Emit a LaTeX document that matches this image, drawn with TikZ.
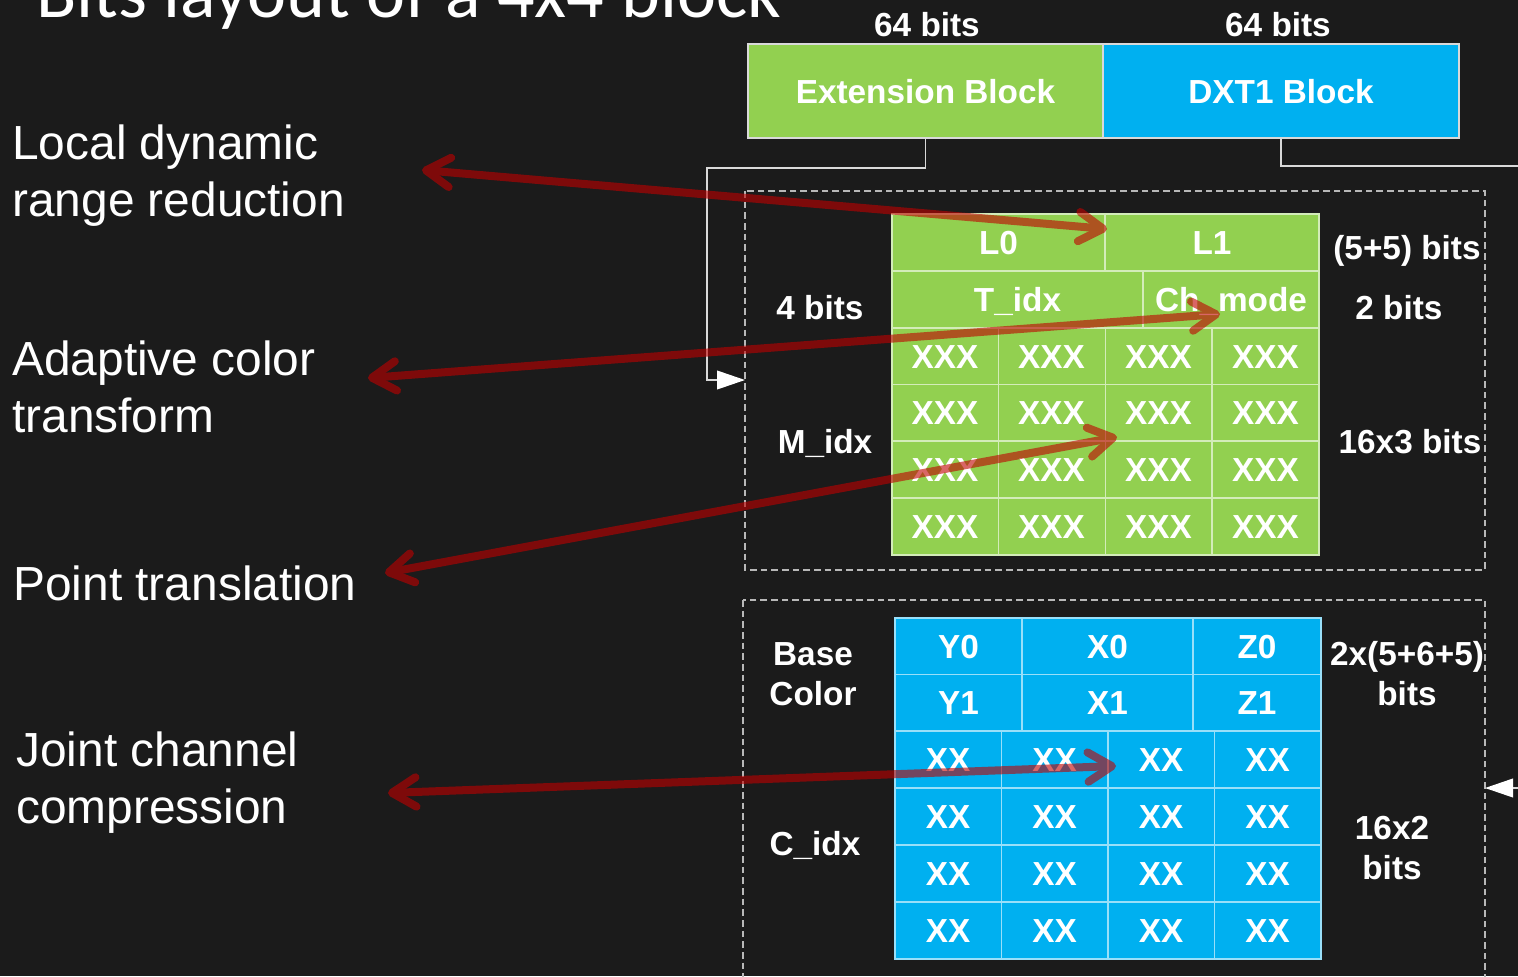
\documentclass[tikz,border=0pt]{standalone}
\usepackage{fontspec}
\setmainfont{Liberation Sans}
\newfontfamily\calfont{Carlito}
\usetikzlibrary{arrows.meta}
\definecolor{bg}{HTML}{1B1B1B}
\definecolor{xgreen}{HTML}{92D050}
\definecolor{xblue}{HTML}{00B0F0}
\definecolor{xred}{HTML}{C00000}
\definecolor{connc}{HTML}{D9D9D9}
\newcommand\bsz{\fontsize{25}{30}\selectfont\bfseries}
\newcommand\lsz{\fontsize{35.9}{42.75}\selectfont}
\newcommand\tsz{\calfont\fontsize{55.5}{60}\selectfont}
\begin{document}
\begin{tikzpicture}[x=0.75pt,y=-0.75pt,
  lbl/.style={text=white,font=\bsz,inner sep=0pt,text height=18pt,text depth=0pt},
  lbltwo/.style={text=white,font=\bsz,inner sep=0pt,align=center},
  bigtxt/.style={text=white,font=\lsz,inner sep=0pt,anchor=base west,align=left},
  blk/.style={draw=connc,line width=1.1pt,text=white,font=\bsz,inner sep=0pt,
    minimum height=70.5pt,text height=18pt,text depth=0pt},
  gline/.style={draw=white!60!xgreen,line width=1.3pt},
  bline/.style={draw=white!60!xblue,line width=1.3pt},
  dbox/.style={draw=connc!85!black,line width=1.1pt,dash pattern=on 5pt off 3pt},
  conn/.style={draw=connc,line width=1.3pt,-{Triangle[length=21pt,width=14pt,color=white]}},
  redarrow/.style={draw=xred,line width=6pt,line cap=round,
    {Straight Barb[round,length=18pt,width=22pt]}-{Straight Barb[round,length=18pt,width=22pt]}}]
\fill[bg] (0,0) rectangle (1518,976);
\useasboundingbox (0,0) rectangle (1518,976);
\clip (0,0) rectangle (1518,976);

% title
\node[anchor=base west,text=white,font=\tsz,inner sep=0pt] (title) at (36,17) {Bits layout of a 4x4 block};

% left texts (base = last line)
\node[bigtxt] (t1) at (12,216) {Local dynamic\\range reduction};
\node[bigtxt] (t2) at (12,432) {Adaptive color\\transform};
\node[bigtxt] (t3) at (13,600) {Point translation};
\node[bigtxt] (t4) at (16,823) {Joint channel\\compression};

% top blocks
\node[blk,fill=xgreen,minimum width=266.25pt] (ext) at (925.5,91) {Extension Block};
\node[blk,fill=xblue,minimum width=267pt] (dxt) at (1281,91) {DXT1 Block};
\node[lbl] (s1) at (927,24) {64 bits};
\node[lbl] (s2) at (1278,24) {64 bits};

% dashed boxes
\draw[dbox] (745,191) rectangle (1485,570);
\draw[dbox] (743,600) rectangle (1485,990);

% connectors
\coordinate (in1) at (745,380);
\coordinate (in2) at (1485,788);
\draw[conn] (ext.south) -- ++(0,29) -| (707,380) -- (in1);
\draw[conn] (dxt.south) -- ++(0,27) -| (1530,788) -- (in2);

% green table
\fill[xgreen] (892,214) rectangle (1319,555);
\draw[gline] (892,214) rectangle (1319,555);
\foreach \y in {271,328,384.5,441,498} \draw[gline] (892,\y) -- (1319,\y);
\draw[gline] (1105,214) -- (1105,271);
\draw[gline] (1143,271) -- (1143,328);
\foreach \x in {998.5,1105.5,1212} \draw[gline] (\x,328) -- (\x,555);
\node[lbl] (l0) at (998.5,242.5) {L0};
\node[lbl] (l1) at (1212,242.5) {L1};
\node[lbl] (tidx) at (1017.5,299.5) {T\_idx};
\node[lbl] (chm) at (1231,299.5) {Ch\_mode};
\foreach \r [count=\i] in {356,412.5,469.5,526.5}
  \foreach \c [count=\j] in {945,1051.5,1158.5,1265.5}
    \node[lbl] (g\i\j) at (\c,\r) {XXX};

% blue table
\fill[xblue] (895,618) rectangle (1321,959);
\draw[bline] (895,618) rectangle (1321,959);
\foreach \y in {674.5,731,788,845,902} \draw[bline] (895,\y) -- (1321,\y);
\foreach \x in {1022,1193} \draw[bline] (\x,618) -- (\x,731);
\foreach \x in {1001.5,1108,1214.5} \draw[bline] (\x,731) -- (\x,959);
\node[lbl] (y0) at (958.5,646) {Y0};
\node[lbl] (x0) at (1107.5,646) {X0};
\node[lbl] (z0) at (1257,646) {Z0};
\node[lbl] (y1) at (958.5,702.5) {Y1};
\node[lbl] (x1) at (1107.5,702.5) {X1};
\node[lbl] (z1) at (1257,702.5) {Z1};
\foreach \r [count=\i] in {759.5,816.5,873.5,930.5}
  \foreach \c [count=\j] in {948,1054.5,1161,1267.5}
    \node[lbl] (c\i\j) at (\c,\r) {XX};

% side labels
\node[lbl] (b4) at (820,307) {4 bits};
\node[lbl] (midx) at (825,441) {M\_idx};
\node[lbl] (b55) at (1407,247) {(5+5) bits};
\node[lbl] (b2) at (1399,307) {2 bits};
\node[lbl] (b163) at (1410,441) {16x3 bits};
\node[lbltwo] (base) at (813,674) {Base\\Color};
\node[lbl] (cidx) at (815,843) {C\_idx};
\node[lbltwo] (b565) at (1407,674) {2x(5+6+5)\\bits};
\node[lbltwo] (b162) at (1392,848) {16x2\\bits};

% red arrows
\coordinate (a1) at (422,170);  \coordinate (e1) at (1107,229);
\coordinate (a2) at (368,378);  \coordinate (e2) at (1220,314);
\coordinate (a3) at (385,573);  \coordinate (e3) at (1117,437);
\coordinate (a4) at (388,793);  \coordinate (e4) at (1116,766);
\foreach \k in {1,2,3,4}{
  \begin{scope}[transparency group,opacity=0.6]
    \draw[redarrow] (a\k) -- (e\k);
  \end{scope}
}
\end{tikzpicture}
\end{document}
